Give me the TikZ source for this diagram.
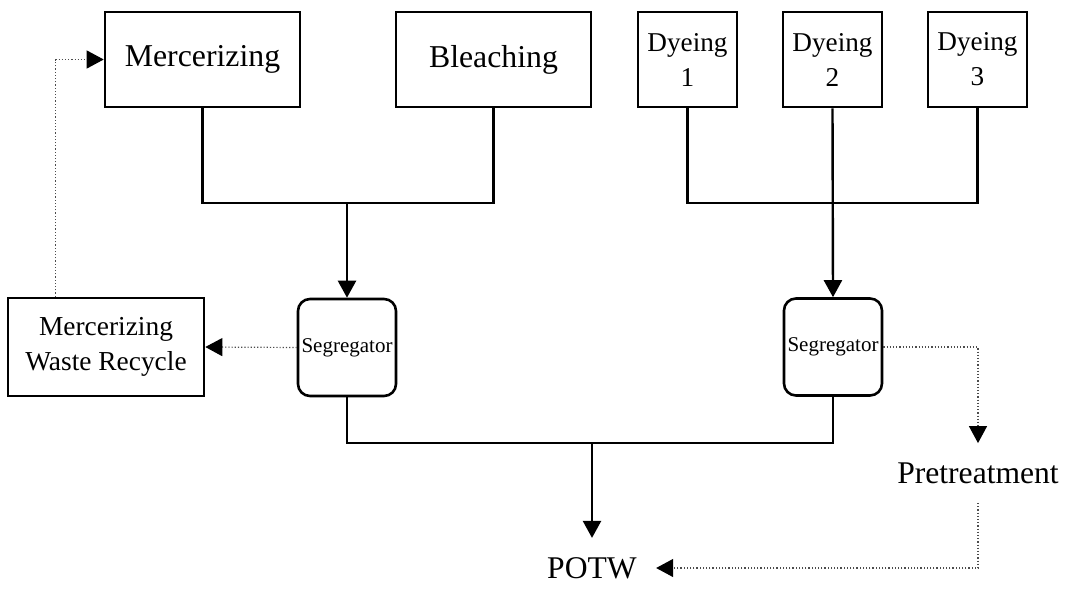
\documentclass[tikz,border=0pt]{standalone}
\usepackage{fontspec}
\setmainfont{Liberation Serif}
\usepackage{tikz}
\usetikzlibrary{arrows.meta}
\tikzset{>={Triangle[length=8.5pt,width=9pt]}}
\tikzset{procbox/.style = {shape=rectangle,draw,line width=1.3pt,minimum width=97.5pt,minimum height=47.5pt,font=\fontsize{15.9}{19}\selectfont}}
\tikzset{dyebox/.style = {shape=rectangle,draw,line width=1.3pt,minimum width=49.5pt,minimum height=47.5pt,align=center,font=\fontsize{13.6}{17.5}\selectfont}}
\tikzset{recbox/.style = {shape=rectangle,draw,line width=1.3pt,minimum width=98pt,minimum height=49pt,align=center,inner sep=1pt,font=\fontsize{13.7}{17.5}\selectfont}}
\tikzset{segbox/.style = {shape=rectangle,draw,line width=1.3pt,rounded corners=6pt,minimum width=49pt,minimum height=48.5pt,inner sep=0pt,font=\fontsize{10.5}{12}\selectfont}}
\tikzset{endtext/.style = {inner sep=9.5pt,font=\fontsize{15.8}{19}\selectfont}}
\tikzset{pipe/.style = {line width=1.2pt}}
\tikzset{sideflow/.style = {densely dotted,line width=0.6pt,draw=black!70,-{Triangle[length=8.5pt,width=9pt,black]}}}

\begin{document}
\begin{tikzpicture}[x=0.5pt,y=-0.5pt]
                    \useasboundingbox (0,0) rectangle (1071,589);

                    \node[procbox] (merc) at (202.5,59.5) {Mercerizing};
                    \node[procbox] (bleach) at (493.5,59.5) {Bleaching};
                    \node[dyebox] (dye1) at (687.5,59.5) {Dyeing\\1};
                    \node[dyebox] (dye2) at (832.5,59.5) {Dyeing\\2};
                    \node[dyebox] (dye3) at (977.5,59.5) {Dyeing\\3};

                    \node[recbox] (recyc) at (106,347) {Mercerizing\\Waste Recycle};
                    \node[segbox] (segL) at (347,347.5) {Segregator};
                    \node[segbox] (segR) at (833,347) {Segregator};

                    \node[endtext] (pret) at (978,473) {Pretreatment};
                    \node[endtext] (potw) at (592,568) {POTW};

                    \coordinate (jl) at (347,203);
                    \coordinate (jr) at (832.5,203);
                    \coordinate (jb) at (592,443);

                    \draw[pipe] (merc.south) |- (jl);
                    \draw[pipe] (bleach.south) |- (jl);
                    \draw[pipe,->] (jl) -- (segL.north);
                    \draw[pipe] (dye1.south) |- (jr);
                    \draw[pipe] (dye3.south) |- (jr);
                    \draw[pipe,->] (dye2.south) -- (segR.north);
                    \draw[pipe] (segL.south) |- (jb);
                    \draw[pipe] (segR.south) |- (jb);
                    \draw[pipe,->] (jb) -- (potw.north);

                    \draw[sideflow] (segL.west) -- (recyc.east);
                    \draw[sideflow] ([xshift=24.5pt]recyc.north west) |- (merc.west);
                    \draw[sideflow] (segR.east) -| (pret.north);
                    \draw[sideflow] (pret.south) |- (potw.east);
                \end{tikzpicture}
\end{document}
